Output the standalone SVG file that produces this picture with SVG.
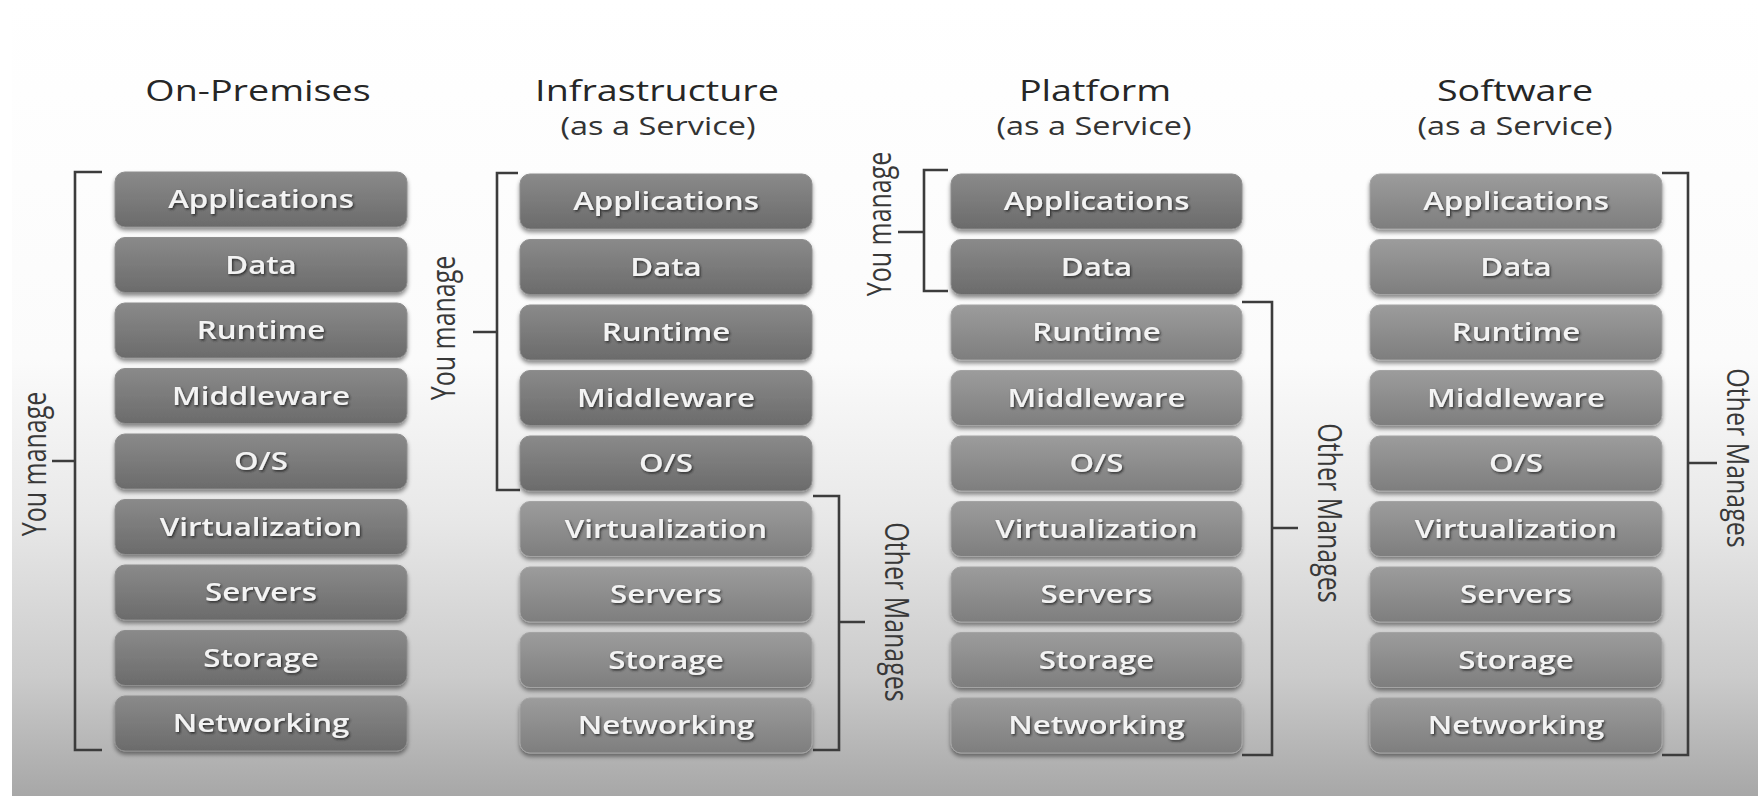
<svg xmlns="http://www.w3.org/2000/svg" width="1758" height="796" viewBox="0 0 1758 796">
<style>
.bd{fill:url(#gd);stroke:#8e8e8e;stroke-width:1;filter:url(#sh)}
.bl{fill:url(#gl);stroke:#a4a4a4;stroke-width:1;filter:url(#sh)}
.lbl{font-family:"Open Sans","Liberation Sans",sans-serif;font-size:25px;font-weight:600;fill:#f3f3f3;text-anchor:middle;filter:url(#tsh)}
.ttl{font-family:"Open Sans","Liberation Sans",sans-serif;font-size:29px;fill:#262626;text-anchor:middle}
.sub{font-family:"Open Sans","Liberation Sans",sans-serif;font-size:25px;fill:#333;text-anchor:middle}
.side{font-family:"Open Sans","Liberation Sans",sans-serif;font-size:25px;fill:#383838;text-anchor:middle}
.br{fill:none;stroke:#3c3c3c;stroke-width:2.6}
</style>
<defs>
<linearGradient id="bg" x1="0" y1="0" x2="0" y2="1">
<stop offset="0" stop-color="#ffffff"/>
<stop offset="0.45" stop-color="#fbfbfb"/>
<stop offset="0.65" stop-color="#e8e8e8"/>
<stop offset="0.85" stop-color="#cbcbcb"/>
<stop offset="1" stop-color="#a7a7a7"/>
</linearGradient>
<linearGradient id="gd" x1="0" y1="0" x2="0" y2="1">
<stop offset="0" stop-color="#8a8a8a"/>
<stop offset="1" stop-color="#6b6b6b"/>
</linearGradient>
<linearGradient id="gl" x1="0" y1="0" x2="0" y2="1">
<stop offset="0" stop-color="#9c9c9c"/>
<stop offset="1" stop-color="#7e7e7e"/>
</linearGradient>
<filter id="sh" x="-5%" y="-20%" width="110%" height="150%">
<feDropShadow dx="0" dy="3" stdDeviation="2" flood-color="#000" flood-opacity="0.45"/>
</filter>
<filter id="tsh" x="-10%" y="-30%" width="120%" height="160%">
<feDropShadow dx="1" dy="1.5" stdDeviation="0.8" flood-color="#222" flood-opacity="0.85"/>
</filter>
</defs>
<rect x="0" y="0" width="1758" height="796" fill="#ffffff"/>
<rect x="12" y="0" width="1746" height="796" fill="url(#bg)"/>

<g id="titles">
<text class="ttl" transform="matrix(1.3 0 0 1 258 101)">On-Premises</text>
<text class="ttl" transform="matrix(1.3 0 0 1 657 101)">Infrastructure</text>
<text class="sub" transform="matrix(1.3 0 0 1 658 135)">(as a Service)</text>
<text class="ttl" transform="matrix(1.3 0 0 1 1095 101)">Platform</text>
<text class="sub" transform="matrix(1.3 0 0 1 1094 135)">(as a Service)</text>
<text class="ttl" transform="matrix(1.3 0 0 1 1515 101)">Software</text>
<text class="sub" transform="matrix(1.3 0 0 1 1515 135)">(as a Service)</text>
</g>

<g id="connectors">
<path class="br" d="M102,172 H75 V750 H102 M75,461 H52"/>
<path class="br" d="M518,173 H497 V490 H520 M497,332 H473"/>
<path class="br" d="M813,496 H839 V750 H813 M839,622 H865"/>
<path class="br" d="M948,170 H924 V291 H948 M924,232 H898"/>
<path class="br" d="M1242,302 H1272 V755 H1242 M1272,528 H1298"/>
<path class="br" d="M1662,173 H1688 V755 H1662 M1688,463 H1717"/>
</g>

<g id="side-labels">
<text class="side" transform="translate(46,464) scale(1.28,1) rotate(-90)">You manage</text>
<text class="side" transform="translate(455,328) scale(1.28,1) rotate(-90)">You manage</text>
<text class="side" transform="translate(885,612) scale(1.28,1) rotate(90)">Other Manages</text>
<text class="side" transform="translate(891,224) scale(1.28,1) rotate(-90)">You manage</text>
<text class="side" transform="translate(1318,513) scale(1.28,1) rotate(90)">Other Manages</text>
<text class="side" transform="translate(1727,458) scale(1.24,1) rotate(90)">Other Manages</text>
</g>

<g id="on-premises">
<g id="op-applications"><rect class="bd" x="115" y="172" width="292" height="55" rx="10"/><text class="lbl" transform="matrix(1.25 0 0 1 261 208)">Applications</text></g>
<g id="op-data"><rect class="bd" x="115" y="237.5" width="292" height="55" rx="10"/><text class="lbl" transform="matrix(1.25 0 0 1 261 273.5)">Data</text></g>
<g id="op-runtime"><rect class="bd" x="115" y="303" width="292" height="55" rx="10"/><text class="lbl" transform="matrix(1.25 0 0 1 261 339)">Runtime</text></g>
<g id="op-middleware"><rect class="bd" x="115" y="368.5" width="292" height="55" rx="10"/><text class="lbl" transform="matrix(1.25 0 0 1 261 404.5)">Middleware</text></g>
<g id="op-os"><rect class="bd" x="115" y="434" width="292" height="55" rx="10"/><text class="lbl" transform="matrix(1.25 0 0 1 261 470)">O/S</text></g>
<g id="op-virtualization"><rect class="bd" x="115" y="499.5" width="292" height="55" rx="10"/><text class="lbl" transform="matrix(1.25 0 0 1 261 535.5)">Virtualization</text></g>
<g id="op-servers"><rect class="bd" x="115" y="565" width="292" height="55" rx="10"/><text class="lbl" transform="matrix(1.25 0 0 1 261 601)">Servers</text></g>
<g id="op-storage"><rect class="bd" x="115" y="630.5" width="292" height="55" rx="10"/><text class="lbl" transform="matrix(1.25 0 0 1 261 666.5)">Storage</text></g>
<g id="op-networking"><rect class="bd" x="115" y="696" width="292" height="55" rx="10"/><text class="lbl" transform="matrix(1.25 0 0 1 261 732)">Networking</text></g>
</g>

<g id="iaas">
<g id="iaas-applications"><rect class="bd" x="520" y="174" width="292" height="55" rx="10"/><text class="lbl" transform="matrix(1.25 0 0 1 666 210)">Applications</text></g>
<g id="iaas-data"><rect class="bd" x="520" y="239.5" width="292" height="55" rx="10"/><text class="lbl" transform="matrix(1.25 0 0 1 666 275.5)">Data</text></g>
<g id="iaas-runtime"><rect class="bd" x="520" y="305" width="292" height="55" rx="10"/><text class="lbl" transform="matrix(1.25 0 0 1 666 341)">Runtime</text></g>
<g id="iaas-middleware"><rect class="bd" x="520" y="370.5" width="292" height="55" rx="10"/><text class="lbl" transform="matrix(1.25 0 0 1 666 406.5)">Middleware</text></g>
<g id="iaas-os"><rect class="bd" x="520" y="436" width="292" height="55" rx="10"/><text class="lbl" transform="matrix(1.25 0 0 1 666 472)">O/S</text></g>
<g id="iaas-virtualization"><rect class="bl" x="520" y="501.5" width="292" height="55" rx="10"/><text class="lbl" transform="matrix(1.25 0 0 1 666 537.5)">Virtualization</text></g>
<g id="iaas-servers"><rect class="bl" x="520" y="567" width="292" height="55" rx="10"/><text class="lbl" transform="matrix(1.25 0 0 1 666 603)">Servers</text></g>
<g id="iaas-storage"><rect class="bl" x="520" y="632.5" width="292" height="55" rx="10"/><text class="lbl" transform="matrix(1.25 0 0 1 666 668.5)">Storage</text></g>
<g id="iaas-networking"><rect class="bl" x="520" y="698" width="292" height="55" rx="10"/><text class="lbl" transform="matrix(1.25 0 0 1 666 734)">Networking</text></g>
</g>

<g id="paas">
<g id="paas-applications"><rect class="bd" x="951" y="174" width="291" height="55" rx="10"/><text class="lbl" transform="matrix(1.25 0 0 1 1096.5 210)">Applications</text></g>
<g id="paas-data"><rect class="bd" x="951" y="239.5" width="291" height="55" rx="10"/><text class="lbl" transform="matrix(1.25 0 0 1 1096.5 275.5)">Data</text></g>
<g id="paas-runtime"><rect class="bl" x="951" y="305" width="291" height="55" rx="10"/><text class="lbl" transform="matrix(1.25 0 0 1 1096.5 341)">Runtime</text></g>
<g id="paas-middleware"><rect class="bl" x="951" y="370.5" width="291" height="55" rx="10"/><text class="lbl" transform="matrix(1.25 0 0 1 1096.5 406.5)">Middleware</text></g>
<g id="paas-os"><rect class="bl" x="951" y="436" width="291" height="55" rx="10"/><text class="lbl" transform="matrix(1.25 0 0 1 1096.5 472)">O/S</text></g>
<g id="paas-virtualization"><rect class="bl" x="951" y="501.5" width="291" height="55" rx="10"/><text class="lbl" transform="matrix(1.25 0 0 1 1096.5 537.5)">Virtualization</text></g>
<g id="paas-servers"><rect class="bl" x="951" y="567" width="291" height="55" rx="10"/><text class="lbl" transform="matrix(1.25 0 0 1 1096.5 603)">Servers</text></g>
<g id="paas-storage"><rect class="bl" x="951" y="632.5" width="291" height="55" rx="10"/><text class="lbl" transform="matrix(1.25 0 0 1 1096.5 668.5)">Storage</text></g>
<g id="paas-networking"><rect class="bl" x="951" y="698" width="291" height="55" rx="10"/><text class="lbl" transform="matrix(1.25 0 0 1 1096.5 734)">Networking</text></g>
</g>

<g id="saas">
<g id="saas-applications"><rect class="bl" x="1370" y="174" width="292" height="55" rx="10"/><text class="lbl" transform="matrix(1.25 0 0 1 1516 210)">Applications</text></g>
<g id="saas-data"><rect class="bl" x="1370" y="239.5" width="292" height="55" rx="10"/><text class="lbl" transform="matrix(1.25 0 0 1 1516 275.5)">Data</text></g>
<g id="saas-runtime"><rect class="bl" x="1370" y="305" width="292" height="55" rx="10"/><text class="lbl" transform="matrix(1.25 0 0 1 1516 341)">Runtime</text></g>
<g id="saas-middleware"><rect class="bl" x="1370" y="370.5" width="292" height="55" rx="10"/><text class="lbl" transform="matrix(1.25 0 0 1 1516 406.5)">Middleware</text></g>
<g id="saas-os"><rect class="bl" x="1370" y="436" width="292" height="55" rx="10"/><text class="lbl" transform="matrix(1.25 0 0 1 1516 472)">O/S</text></g>
<g id="saas-virtualization"><rect class="bl" x="1370" y="501.5" width="292" height="55" rx="10"/><text class="lbl" transform="matrix(1.25 0 0 1 1516 537.5)">Virtualization</text></g>
<g id="saas-servers"><rect class="bl" x="1370" y="567" width="292" height="55" rx="10"/><text class="lbl" transform="matrix(1.25 0 0 1 1516 603)">Servers</text></g>
<g id="saas-storage"><rect class="bl" x="1370" y="632.5" width="292" height="55" rx="10"/><text class="lbl" transform="matrix(1.25 0 0 1 1516 668.5)">Storage</text></g>
<g id="saas-networking"><rect class="bl" x="1370" y="698" width="292" height="55" rx="10"/><text class="lbl" transform="matrix(1.25 0 0 1 1516 734)">Networking</text></g>
</g>
</svg>
